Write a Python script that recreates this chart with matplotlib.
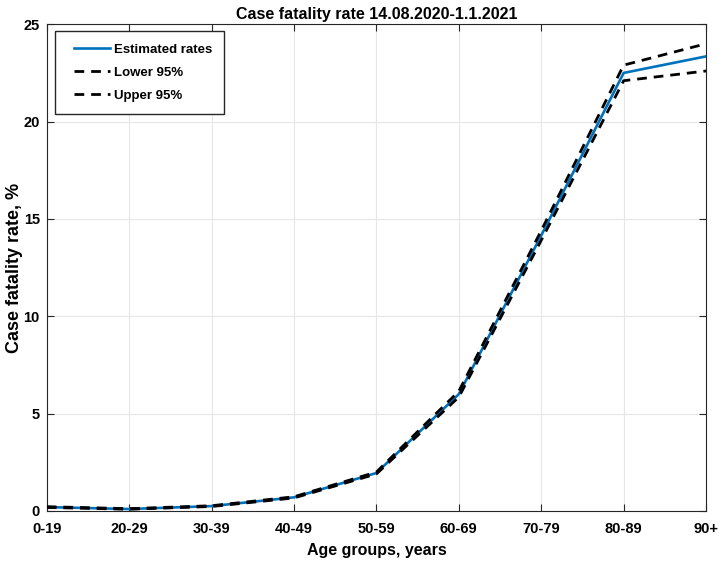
import matplotlib
matplotlib.use('Agg')
import matplotlib.pyplot as plt
from matplotlib.legend_handler import HandlerLine2D

plt.rcParams['font.family'] = ['Liberation Sans', 'DejaVu Sans']
plt.rcParams['font.weight'] = 'bold'

# 연령대와 치명률 (%)
age_groups = ['0-19', '20-29', '30-39', '40-49', '50-59', '60-69', '70-79', '80-89', '90+']
estimated = [0.2, 0.1, 0.25, 0.7, 1.95, 6.0, 14.15, 22.5, 23.35]
lower = [0.18, 0.09, 0.23, 0.67, 1.9, 5.85, 13.9, 22.1, 22.6]
upper = [0.22, 0.12, 0.27, 0.73, 2.0, 6.15, 14.4, 22.9, 24.0]

x = list(range(len(age_groups)))

fig = plt.figure(figsize=(7.19, 5.64), dpi=100)
ax = fig.add_axes([0.065, 0.094, 0.917, 0.863])

ax.plot(x, estimated, color='#0072BD', lw=1.9, label='Estimated rates', zorder=3)
ax.plot(x, lower, color='black', lw=2.0, ls=(0, (3.5, 2.5)), label='Lower 95%', zorder=4)
ax.plot(x, upper, color='black', lw=2.0, ls=(0, (3.5, 2.5)), label='Upper 95%', zorder=4)

ax.set_xlim(0, len(age_groups) - 1)
ax.set_ylim(0, 25)
ax.set_xticks(x)
ax.set_xticklabels(age_groups)
ax.set_yticks([0, 5, 10, 15, 20, 25])
ax.tick_params(direction='in', top=True, right=True, labelsize=10.5, length=5, color='#262626')
ax.tick_params(axis='x', pad=8)
ax.tick_params(axis='y', pad=5)
for s in ax.spines.values():
    s.set_color('#262626')
    s.set_linewidth(0.8)
ax.grid(color='#e6e6e6', lw=0.8)
ax.set_axisbelow(True)

ax.set_title('Case fatality rate 14.08.2020-1.1.2021', fontsize=11.5, fontweight='bold', pad=4)
ax.set_xlabel('Age groups, years', fontsize=11.5, fontweight='bold', labelpad=5)
ax.set_ylabel('Case fatality rate, %', fontsize=13, fontweight='bold', labelpad=0)

# 범례 (MATLAB 스타일 박스)
hmap = {ln: HandlerLine2D(xpad=0.53) for ln in ax.get_lines()}
ax.legend(loc='upper left', fontsize=9.5, fancybox=False, edgecolor='#262626',
          framealpha=1, borderpad=0.95, labelspacing=0.81, handlelength=3.26,
          handletextpad=0.3, borderaxespad=0, mode='expand',
          bbox_to_anchor=(0.0121, 0.5, 0.2565, 0.4856), handler_map=hmap)

fig.savefig('out.png', dpi=100)
